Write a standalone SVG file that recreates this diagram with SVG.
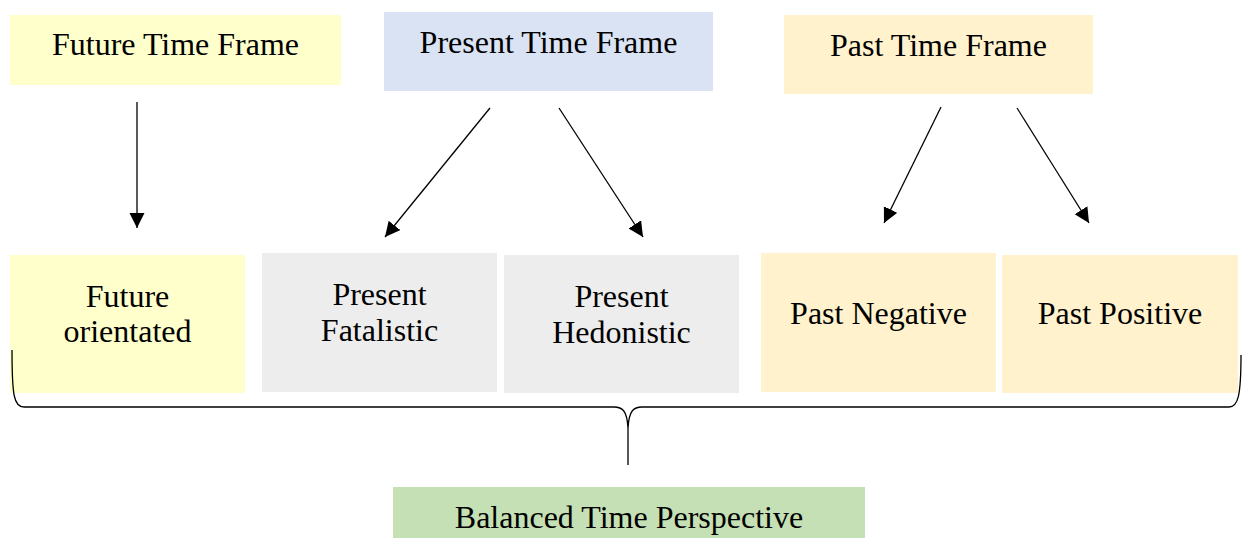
<svg xmlns="http://www.w3.org/2000/svg" width="1244" height="538" viewBox="0 0 1244 538">
<style>
text{font-family:"Liberation Serif","Times New Roman",serif;font-size:32px;fill:#000;text-anchor:middle}
.yel{fill:#FFFFCC}.blu{fill:#DAE3F3}.org{fill:#FFF2CC}.gry{fill:#EDEDED}.grn{fill:#C5E0B4}
.conn line{stroke:#000;stroke-width:1.3;marker-end:url(#ah)}
.brace{fill:none;stroke:#000;stroke-width:1.3}
</style>
<defs>
<marker id="ah" markerUnits="userSpaceOnUse" markerWidth="16" markerHeight="16" refX="15" refY="7.5" orient="auto">
<path d="M0,0 L15,7.5 L0,15 z" fill="#000"/>
</marker>
</defs>
<rect width="1244" height="538" fill="#fff"/>
<g id="future-frame"><rect class="yel" x="10" y="15" width="331" height="70"/><text x="175.5" y="55">Future Time Frame</text></g>
<g id="present-frame"><rect class="blu" x="384" y="12" width="329" height="79"/><text x="548.5" y="53">Present Time Frame</text></g>
<g id="past-frame"><rect class="org" x="784" y="15" width="309" height="79"/><text x="938.5" y="56">Past Time Frame</text></g>
<g id="future-orientated"><rect class="yel" x="10" y="255" width="235" height="138"/><text x="127.5" y="307">Future</text><text x="127.5" y="342">orientated</text></g>
<g id="present-fatalistic"><rect class="gry" x="262" y="253" width="235" height="139"/><text x="379.5" y="305">Present</text><text x="379.5" y="341">Fatalistic</text></g>
<g id="present-hedonistic"><rect class="gry" x="504" y="255" width="235" height="138"/><text x="621.5" y="307">Present</text><text x="621.5" y="343">Hedonistic</text></g>
<g id="past-negative"><rect class="org" x="761" y="253" width="235" height="139"/><text x="878.5" y="324">Past Negative</text></g>
<g id="past-positive"><rect class="org" x="1002" y="255" width="236" height="138"/><text x="1120" y="324">Past Positive</text></g>
<g id="balanced"><rect class="grn" x="393" y="487" width="472" height="51"/><text x="629" y="528">Balanced Time Perspective</text></g>
<g id="connectors" class="conn">
<line x1="137" y1="102" x2="137" y2="228"/>
<line x1="490" y1="108" x2="385" y2="237"/>
<line x1="559" y1="108" x2="643" y2="237"/>
<line x1="941" y1="107" x2="884" y2="223"/>
<line x1="1017" y1="108" x2="1089" y2="223"/>
<path class="brace" d="M12,350 C12,396 14,407 24,407 L614,407 C622,407 627,410 628,428 L628,465 M642,407 C634,407 629,410 628,428 M642,407 L1229,407 C1238,407 1241,396 1241,355"/>
</g>
</svg>
